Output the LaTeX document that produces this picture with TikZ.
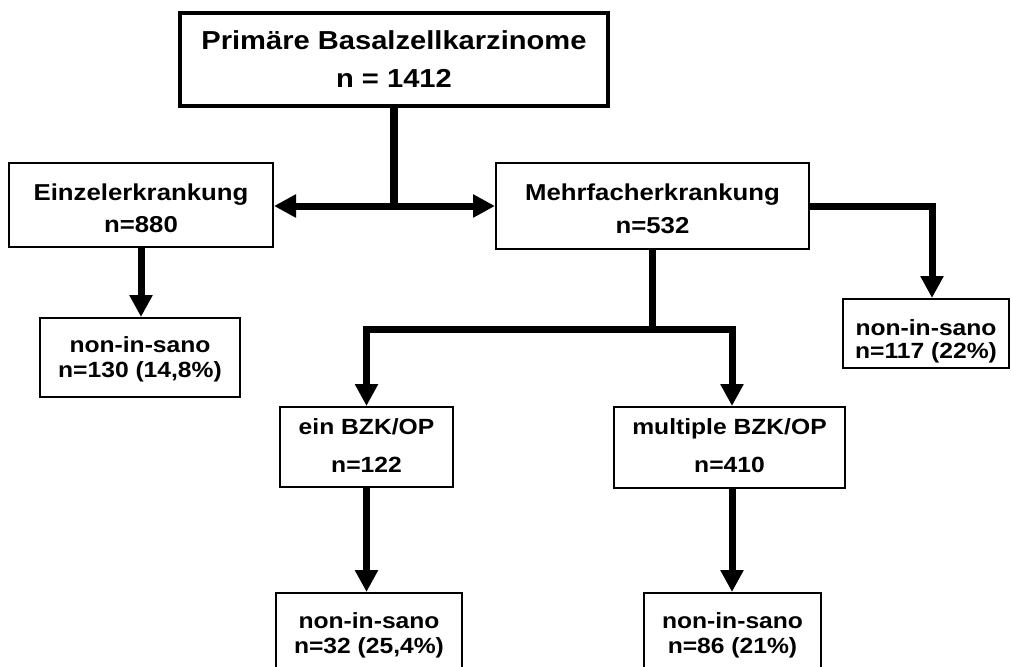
\documentclass[tikz,border=0pt]{standalone}
\usepackage{fontspec}
\setmainfont[FakeStretch=1.12]{Liberation Sans}
\usetikzlibrary{arrows.meta}
\begin{document}
\begin{tikzpicture}[x=1pt,y=-1pt,
  box/.style={draw=black, line width=2pt, fill=white, inner sep=0pt, align=center, text depth=0pt},
  stem/.style={line width=7pt, line join=miter},
  conn/.style={line width=7pt, line join=miter, -{Triangle[length=22pt,width=22pt]}},
  big/.style={font=\fontsize{26pt}{38pt}\selectfont\bfseries},
  mid/.style={font=\fontsize{23pt}{32pt}\selectfont\bfseries}
]
\useasboundingbox (0,0) rectangle (1011,666);
\clip (0,0) rectangle (1011,666);
\fill[white] (0,0) rectangle (1011,666);

\node[box, big, line width=3.2pt, minimum width=428pt, minimum height=93pt, text height=57pt] (top) at (394,59.5) {Primäre Basalzellkarzinome\\n = 1412};
\node[box, mid, minimum width=264pt, minimum height=84pt, text height=54pt] (einz) at (141,205) {Einzelerkrankung\\n=880};
\node[box, font=\fontsize{23pt}{33pt}\selectfont\bfseries, minimum width=313pt, minimum height=86pt, text height=54pt] (mehr) at (652.5,206) {Mehrfacherkrankung\\n=532};
\node[box, font=\fontsize{22pt}{25pt}\selectfont\bfseries, minimum width=200pt, minimum height=79pt, text height=39pt] (nonL) at (140,357.5) {non-in-sano\\n=130 (14,8\%)};
\node[box, font=\fontsize{22pt}{23pt}\selectfont\bfseries, minimum width=166pt, minimum height=69pt, text height=49pt] (nonR) at (926,333.5) {non-in-sano\\n=117 (22\%)};
\node[box, font=\fontsize{22pt}{38pt}\selectfont\bfseries, minimum width=173pt, minimum height=80pt, text height=50pt] (ein) at (366.5,447) {ein BZK/OP\\n=122};
\node[box, font=\fontsize{22pt}{38pt}\selectfont\bfseries, minimum width=231pt, minimum height=81pt, text height=49pt] (multi) at (729.5,447.5) {multiple BZK/OP\\n=410};
\node[box, font=\fontsize{22pt}{25pt}\selectfont\bfseries, minimum width=186pt, minimum height=97pt, text height=23pt] (botL) at (369,641.5) {non-in-sano\\n=32 (25,4\%)};
\node[box, font=\fontsize{22pt}{25pt}\selectfont\bfseries, minimum width=177pt, minimum height=97pt, text height=23pt] (botR) at (732.5,641.5) {non-in-sano\\n=86 (21\%)};

\coordinate (f1) at (394,206);
\draw[stem, line width=7.5pt] (top.south) -- ([yshift=-3.75pt]f1);
\draw[conn] (f1) -- (f1 -| einz.east);
\draw[conn] (f1) -- (f1 -| mehr.west);

\draw[conn] (einz.south) -- (einz.south |- nonL.north);

\draw[conn] (mehr.east) -| ([xshift=6pt]nonR.north);

\coordinate (f2) at (652.5,329);
\draw[stem] (mehr.south) -- ([yshift=-3.5pt]f2);
\draw[conn] (f2) -| (ein.north);
\draw[conn] (f2) -| ([xshift=2.5pt]multi.north);

\draw[conn] (ein.south) -- (ein.south |- botL.north);
\draw[conn] ([xshift=2.5pt]multi.south) -- ([xshift=2.5pt]multi.south |- botR.north);
\end{tikzpicture}
\end{document}
